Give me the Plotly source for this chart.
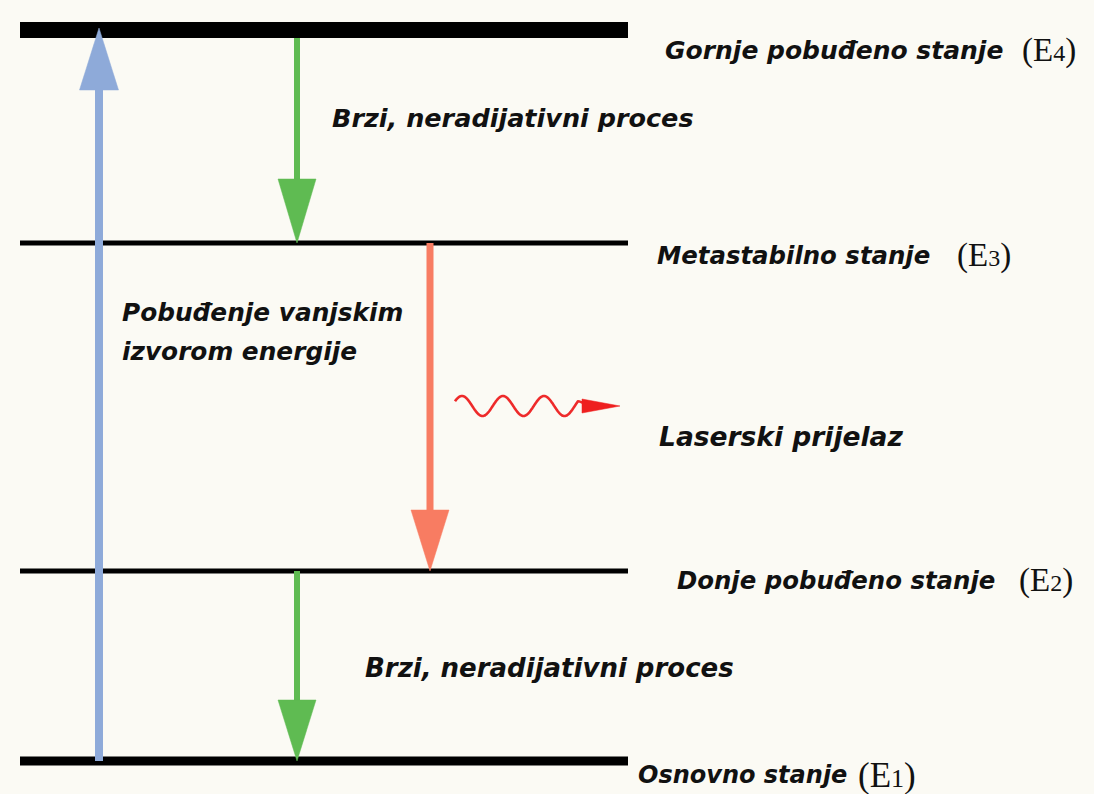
import numpy as np
import plotly.graph_objects as go

W, H = 1094, 794
BG = "#fbfaf4"

# ---- data (diagram coordinates, y grows downward like the picture) ----
level_names = ["E1", "E2", "E3", "E4"]
level_y = [761, 571, 243, 30]
level_x0 = [20, 20, 20, 20]
level_x1 = [628, 628, 628, 628]
level_width = [9, 5, 5, 16]

level_labels = ["Osnovno stanje", "Donje pobuđeno stanje", "Metastabilno stanje", "Gornje pobuđeno stanje"]
level_label_x = [636, 675, 655, 663]
level_label_y = [775, 580, 255, 50]
level_label_size = [24, 24.4, 24.4, 25]
level_tag_x = [856, 1017, 955, 1020]
level_tag_size = [35, 33, 33, 33]
level_tag_digit = ["1", "2", "3", "4"]

# transitions: (x, start_y, tip_y, colour, shaft width)
arrow_x = [99, 297, 430, 297]
arrow_from = [761, 38, 243, 571]
arrow_to = [28, 243, 571, 761]
arrow_color = ["#8eaad9", "#5fbb52", "#f87c62", "#5fbb52"]
arrow_shaft = [8, 6, 7, 6]
head_len = [62, 64, 61, 61]
head_w = [39, 38, 38, 38]

text_labels = ["Brzi, neradijativni proces", "Pobuđenje vanjskim", "izvorom energije",
               "Laserski prijelaz", "Brzi, neradijativni proces"]
text_x = [330, 120, 120, 657, 363]
text_y = [118, 312, 351, 436, 668]
text_size = [25.5, 24.8, 24.8, 26.5, 26]

fig = go.Figure()

# energy levels
for yv, x0, x1, lw in zip(level_y, level_x0, level_x1, level_width):
    fig.add_trace(go.Scatter(x=[x0, x1], y=[yv, yv], mode="lines",
                             line=dict(color="#000000", width=lw),
                             hoverinfo="skip", showlegend=False))

# arrows
for x, y0, y1, c, sw, hl, hw in zip(arrow_x, arrow_from, arrow_to, arrow_color,
                                    arrow_shaft, head_len, head_w):
    d = 1 if y1 > y0 else -1
    base = y1 - d * hl
    fig.add_trace(go.Scatter(x=[x, x], y=[y0, base + d * 2], mode="lines",
                             line=dict(color=c, width=sw),
                             hoverinfo="skip", showlegend=False))
    fig.add_trace(go.Scatter(x=[x - hw / 2, x + hw / 2, x, x - hw / 2],
                             y=[base, base, y1, base], mode="lines",
                             fill="toself", fillcolor=c, line=dict(color=c, width=0.5),
                             hoverinfo="skip", showlegend=False))

# photon (wavy arrow)
wx0, wx1, wy, amp, period = 455, 578, 406, 10, 41
t = np.linspace(wx0, wx1, 300)
wave_y = wy - amp * np.sin((t - wx0) / period * 2 * np.pi + 0.5)
fig.add_trace(go.Scatter(x=np.r_[t, 590], y=np.r_[wave_y, wy], mode="lines",
                         line=dict(color="#ee2a2a", width=2.6, shape="spline"),
                         hoverinfo="skip", showlegend=False))
fig.add_trace(go.Scatter(x=[582, 620, 582, 582], y=[399, 406, 413, 399], mode="lines",
                         fill="toself", fillcolor="#ee1f1f", line=dict(color="#ee1f1f", width=0.5),
                         hoverinfo="skip", showlegend=False))

annotations = []
for lab, lx, ly, fs in zip(level_labels, level_label_x, level_label_y, level_label_size):
    annotations.append(dict(x=lx, y=ly, text=f"<b><i>{lab}</i></b>", showarrow=False,
                            xanchor="left", yanchor="middle",
                            font=dict(family="DejaVu Sans", size=fs, color="#111111")))
for tx, ly, dg, ts in zip(level_tag_x, level_label_y, level_tag_digit, level_tag_size):
    annotations.append(dict(x=tx, y=ly, text=f"(E<span style='font-size:{round(ts*0.73)}px'>{dg}</span>)",
                            showarrow=False, xanchor="left", yanchor="middle",
                            font=dict(family="Liberation Serif", size=ts, color="#111111")))
for lab, tx, ty, fs in zip(text_labels, text_x, text_y, text_size):
    annotations.append(dict(x=tx, y=ty, text=f"<b><i>{lab}</i></b>", showarrow=False,
                            xanchor="left", yanchor="middle",
                            font=dict(family="DejaVu Sans", size=fs, color="#111111")))

fig.update_layout(
    width=W, height=H, margin=dict(l=0, r=0, t=0, b=0),
    paper_bgcolor=BG, plot_bgcolor=BG,
    xaxis=dict(range=[0, W], visible=False, fixedrange=True),
    yaxis=dict(range=[H, 0], visible=False, fixedrange=True),
    annotations=annotations, showlegend=False,
)

fig.write_html("out.html", config={"displayModeBar": False},
               post_script="document.body.style.margin='0px';document.body.style.background='" + BG + "';")
